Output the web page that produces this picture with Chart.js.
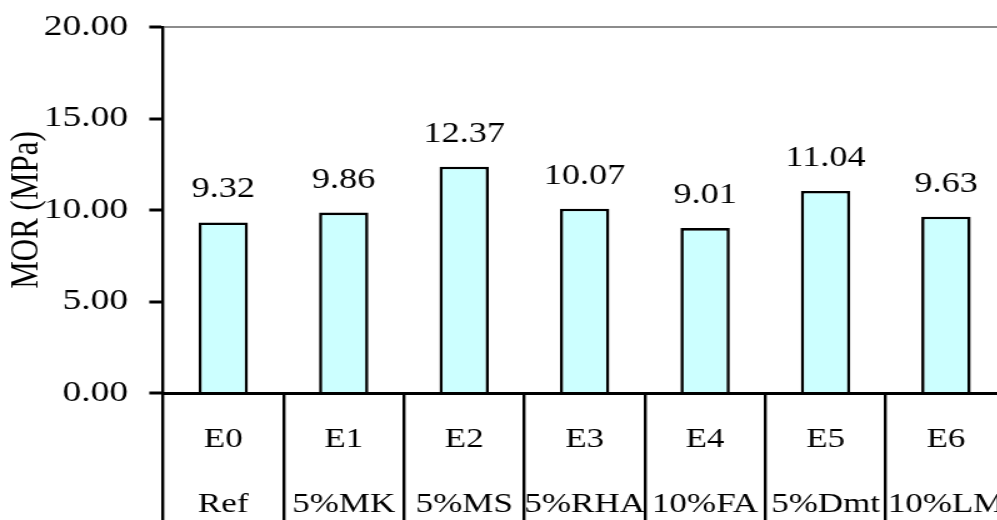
<!DOCTYPE html>
<html>
<head>
<meta charset="utf-8">
<title>MOR</title>
<script src="https://cdn.jsdelivr.net/npm/chart.js@4.4.0/dist/chart.umd.min.js"></script>
<style>
  html, body { margin: 0; padding: 0; background: #fff; overflow: hidden; }
  #wrap { width: 997px; height: 520px; overflow: hidden; }
  /* the figure is drawn narrow and widened, like the original export */
  #morChart { display: block; transform: scaleX(1.25); transform-origin: 0 0; }
</style>
</head>
<body>
<div id="wrap"><canvas id="morChart" width="810" height="520"></canvas></div>
<script>
const mixCodes = ["E0", "E1", "E2", "E3", "E4", "E5", "E6"];
const mixNames = ["Ref", "5%MK", "5%MS", "5%RHA", "10%FA", "5%Dmt", "10%LM"];
const morValues = [9.32, 9.86, 12.37, 10.07, 9.01, 11.04, 9.63];

const yMin = 0;
const yMax = 20;
const yStep = 5;

const serif = "'Liberation Serif', 'Times New Roman', serif";
Chart.defaults.font.family = serif;
Chart.defaults.color = "#000";

// value printed above each bar
const valueLabels = {
  id: "valueLabels",
  afterDatasetsDraw(chart) {
    const ctx = chart.ctx;
    const meta = chart.getDatasetMeta(0);
    ctx.save();
    ctx.font = "29px " + serif;
    ctx.fillStyle = "#000";
    ctx.textAlign = "center";
    ctx.textBaseline = "alphabetic";
    meta.data.forEach((bar, i) => {
      ctx.fillText(morValues[i].toFixed(2), bar.x, bar.y - 25);
    });
    ctx.restore();
  }
};

const labels = mixCodes.map((code, i) => [code, mixNames[i]]);

new Chart(document.getElementById("morChart"), {
  type: "bar",
  data: {
    labels: labels,
    datasets: [{
      data: morValues,
      backgroundColor: "#ccffff",
      borderColor: "#000",
      borderWidth: 2.6,
      barPercentage: 0.41,
      categoryPercentage: 1
    }]
  },
  options: {
    responsive: false,
    animation: false,
    devicePixelRatio: 1,
    layout: { padding: { top: 27, right: 5, left: 0, bottom: 0 } },
    plugins: {
      legend: { display: false },
      tooltip: { enabled: false }
    },
    scales: {
      x: {
        offset: true,
        afterFit(scale) { scale.height = 127; },
        border: { display: true, color: "#000", width: 3 },
        grid: {
          offset: true,
          drawOnChartArea: false,
          drawTicks: true,
          tickLength: 127,
          color: "#000",
          lineWidth: 2.4
        },
        ticks: {
          autoSkip: false,
          maxRotation: 0,
          minRotation: 0,
          padding: -113,
          font: { size: 28, lineHeight: 2.32 },
          color: "#000"
        }
      },
      y: {
        min: yMin,
        max: yMax,
        afterFit(scale) {
          scale.width = 130.4;
          // keep the top tick level with the layout padding
          scale.paddingTop = 0;
          scale.paddingBottom = 0;
        },
        border: { display: true, color: "#000", width: 2.4 },
        grid: {
          color: (c) => (c.tick && c.tick.value === yMax ? "#8c8c8c" : "rgba(0,0,0,0)"),
          lineWidth: 2,
          tickColor: "#000",
          tickWidth: 3,
          tickLength: 11
        },
        ticks: {
          stepSize: yStep,
          padding: 17,
          font: { size: 30 },
          color: "#000",
          callback: (v) => Number(v).toFixed(2)
        },
        title: {
          display: true,
          text: "MOR (MPa)",
          font: { size: 31 },
          color: "#000",
          padding: { top: 3, bottom: 0 }
        }
      }
    }
  },
  plugins: [valueLabels]
});
</script>
</body>
</html>
